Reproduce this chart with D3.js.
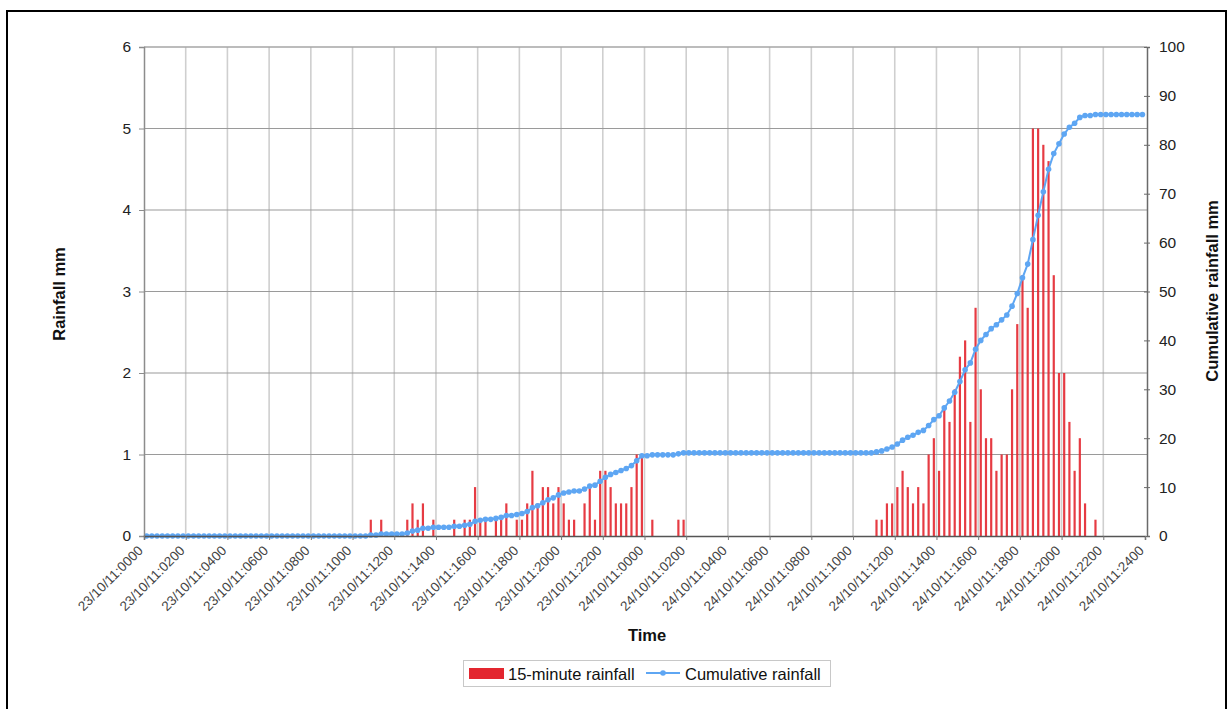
<!DOCTYPE html>
<html>
<head>
<meta charset="utf-8">
<script src="https://cdn.jsdelivr.net/npm/d3@7"></script>
<style>
  html, body { margin: 0; padding: 0; background: #fff; }
  svg { display: block; font-family: "Liberation Sans", Arial, sans-serif; }
</style>
</head>
<body>
<svg id="chart" width="1230" height="709"></svg>
<script>
// 15-minute rainfall (mm), one value per 15-minute interval, 23/10/11 00:00 -> 24/10/11 24:00 (8 per row = 2 hours)
const rainfall = [
  0,0,0,0,0,0,0,0,
  0,0,0,0,0,0,0,0,
  0,0,0,0,0,0,0,0,
  0,0,0,0,0,0,0,0,
  0,0,0,0,0,0,0,0,
  0,0,0,0.2,0,0.2,0,0,
  0,0,0.2,0.4,0.2,0.4,0,0.2,
  0,0,0,0.2,0,0.2,0.2,0.6,
  0.2,0.2,0,0.2,0.2,0.4,0,0.2,
  0.2,0.4,0.8,0.4,0.6,0.6,0.4,0.6,
  0.4,0.2,0.2,0,0.4,0.6,0.2,0.8,
  0.8,0.6,0.4,0.4,0.4,0.6,1.0,1.0,
  0,0.2,0,0,0,0,0.2,0.2,
  0,0,0,0,0,0,0,0,
  0,0,0,0,0,0,0,0,
  0,0,0,0,0,0,0,0,
  0,0,0,0,0,0,0,0,
  0,0,0,0,0.2,0.2,0.4,0.4,
  0.6,0.8,0.6,0.4,0.6,0.4,1.0,1.2,
  0.8,1.6,1.4,1.8,2.2,2.4,1.4,2.8,
  1.8,1.2,1.2,0.8,1.0,1.0,1.8,2.6,
  3.2,2.8,5.0,5.0,4.8,4.6,3.2,2.0,
  2.0,1.4,0.8,1.2,0.4,0,0.2,0,
  0,0,0,0,0,0,0,0
];

// Cumulative rainfall (mm)
const cumulative = [
  0,0,0,0,0,0,0,0,
  0,0,0,0,0,0,0,0,
  0,0,0,0,0,0,0,0,
  0,0,0,0,0,0,0,0,
  0,0,0,0,0,0,0,0,
  0,0,0,0.2,0.2,0.4,0.4,0.4,
  0.4,0.4,0.6,1.0,1.2,1.6,1.6,1.8,
  1.8,1.8,1.8,2.0,2.0,2.2,2.4,3.0,
  3.2,3.4,3.4,3.6,3.8,4.2,4.2,4.4,
  4.6,5.0,5.8,6.2,6.8,7.4,7.8,8.4,
  8.8,9.0,9.2,9.2,9.6,10.2,10.4,11.2,
  12.0,12.6,13.0,13.4,13.8,14.4,15.4,16.4,
  16.4,16.6,16.6,16.6,16.6,16.6,16.8,17.0,
  17.0,17.0,17.0,17.0,17.0,17.0,17.0,17.0,
  17.0,17.0,17.0,17.0,17.0,17.0,17.0,17.0,
  17.0,17.0,17.0,17.0,17.0,17.0,17.0,17.0,
  17.0,17.0,17.0,17.0,17.0,17.0,17.0,17.0,
  17.0,17.0,17.0,17.0,17.2,17.4,17.8,18.2,
  18.8,19.6,20.2,20.6,21.2,21.6,22.6,23.8,
  24.6,26.2,27.6,29.4,31.6,34.0,35.4,38.2,
  40.0,41.2,42.4,43.2,44.2,45.2,47.0,49.6,
  52.8,55.6,60.6,65.6,70.4,75.0,78.2,80.2,
  82.2,83.6,84.4,85.6,86.0,86.0,86.2,86.2,
  86.2,86.2,86.2,86.2,86.2,86.2,86.2,86.2
];

const timeTickLabels = [
  "23/10/11:0000","23/10/11:0200","23/10/11:0400","23/10/11:0600","23/10/11:0800",
  "23/10/11:1000","23/10/11:1200","23/10/11:1400","23/10/11:1600","23/10/11:1800",
  "23/10/11:2000","23/10/11:2200","24/10/11:0000","24/10/11:0200","24/10/11:0400",
  "24/10/11:0600","24/10/11:0800","24/10/11:1000","24/10/11:1200","24/10/11:1400",
  "24/10/11:1600","24/10/11:1800","24/10/11:2000","24/10/11:2200","24/10/11:2400"
];
const leftTicks = [0,1,2,3,4,5,6];
const rightTicks = [0,10,20,30,40,50,60,70,80,90,100];
const seriesNames = ["15-minute rainfall", "Cumulative rainfall"];

const plot = { left: 144, right: 1145, top: 47, bottom: 536 };
const RED = "#e3262f", BLUE = "#5ea6f3";
const FONT = "Liberation Sans, Arial, sans-serif";

const svg = d3.select("#chart");

// frame
svg.append("rect").attr("x", 7).attr("y", 11).attr("width", 1219).attr("height", 720)
  .attr("fill", "none").attr("stroke", "#000").attr("stroke-width", 2);

const n = rainfall.length;
const x = d3.scaleBand().domain(d3.range(n)).range([plot.left, plot.right])
  .paddingInner(0.58).paddingOuter(0.29).align(0.5);
const xt = d3.scaleLinear().domain([0, n]).range([plot.left, plot.right]);
const yL = d3.scaleLinear().domain([0, 6]).range([plot.bottom, plot.top]);
const yR = d3.scaleLinear().domain([0, 100]).range([plot.bottom, plot.top]);

const tickIdx = d3.range(0, n + 1, 8);

// vertical grid
svg.append("g").selectAll("line").data(tickIdx.slice(1, -1)).join("line")
  .attr("x1", d => xt(d)).attr("x2", d => xt(d))
  .attr("y1", plot.top).attr("y2", plot.bottom)
  .attr("stroke", "#cfcfcf").attr("stroke-width", 1.6);
// top border
svg.append("line").attr("x1", plot.left).attr("x2", plot.right + 2)
  .attr("y1", plot.top).attr("y2", plot.top).attr("stroke", "#bdbdbd").attr("stroke-width", 1.2);
// horizontal grid
svg.append("g").selectAll("line").data(leftTicks.slice(1)).join("line")
  .attr("x1", plot.left).attr("x2", plot.right + 2)
  .attr("y1", d => yL(d)).attr("y2", d => yL(d))
  .attr("stroke", "#9a9a9a").attr("stroke-width", 1.2);

// bars
svg.append("g").selectAll("rect").data(rainfall.map((v, i) => ({ i, v })).filter(d => d.v > 0)).join("rect")
  .attr("x", d => x(d.i)).attr("width", x.bandwidth())
  .attr("y", d => yL(d.v)).attr("height", d => yL(0) - yL(d.v))
  .attr("fill", RED).attr("fill-opacity", 0.9);

// cumulative line
const cx = i => x(i) + x.bandwidth() / 2;
svg.append("path").datum(cumulative)
  .attr("d", d3.line().x((d, i) => cx(i)).y(d => yR(d)))
  .attr("fill", "none").attr("stroke", BLUE).attr("stroke-width", 2);
svg.append("g").selectAll("circle").data(cumulative).join("circle")
  .attr("cx", (d, i) => cx(i)).attr("cy", d => yR(d)).attr("r", 2.8).attr("fill", BLUE);

// left axis
const gl = svg.append("g").attr("transform", `translate(${plot.left},0)`)
  .call(d3.axisLeft(yL).tickValues(leftTicks).tickSize(5).tickPadding(8).tickFormat(d3.format("d")));
gl.select(".domain").attr("stroke", "#8c8c8c").attr("stroke-width", 1.5);
gl.selectAll(".tick line").attr("stroke", "#8c8c8c");
gl.selectAll("text").attr("font-size", 15.5).attr("fill", "#222").attr("font-family", FONT);

// right axis
const gr = svg.append("g").attr("transform", `translate(${plot.right + 2},0)`)
  .call(d3.axisRight(yR).tickValues(rightTicks).tickSize(3).tickPadding(9).tickFormat(d3.format("d")));
gr.select(".domain").attr("stroke", "#6a6a6a").attr("stroke-width", 1.5);
gr.selectAll(".tick line").attr("stroke", "#6a6a6a").attr("x1", -3);
gr.selectAll("text").attr("font-size", 15.5).attr("fill", "#222").attr("font-family", FONT);

// bottom axis
const gb = svg.append("g").attr("transform", `translate(0,${plot.bottom})`)
  .call(d3.axisBottom(xt).tickValues(tickIdx).tickSize(4).tickFormat((d, i) => timeTickLabels[i]));
gb.select(".domain").attr("stroke", "#555").attr("stroke-width", 1.5);
gb.selectAll(".tick line").attr("stroke", "#777");
gb.selectAll("text")
  .attr("font-size", 13.5).attr("fill", "#444").attr("font-family", FONT)
  .attr("text-anchor", "end").attr("x", 0).attr("y", 0).attr("dy", "0.35em")
  .attr("transform", "translate(-4,12) rotate(-45)");

// axis titles
svg.append("text").attr("transform", "translate(65,294) rotate(-90)")
  .attr("text-anchor", "middle").attr("font-size", 16.5).attr("font-weight", "bold").attr("fill", "#111")
  .attr("font-family", FONT).text("Rainfall mm");
svg.append("text").attr("transform", "translate(1218,291) rotate(-90)")
  .attr("text-anchor", "middle").attr("font-size", 16.5).attr("font-weight", "bold").attr("fill", "#111")
  .attr("font-family", FONT).text("Cumulative rainfall mm");
svg.append("text").attr("x", 647).attr("y", 641)
  .attr("text-anchor", "middle").attr("font-size", 16.5).attr("font-weight", "bold").attr("fill", "#111")
  .attr("font-family", FONT).text("Time");

// legend
const lg = svg.append("g");
lg.append("rect").attr("x", 463.5).attr("y", 660.5).attr("width", 367).attr("height", 26)
  .attr("fill", "#fff").attr("stroke", "#c8c8c8");
lg.append("rect").attr("x", 469).attr("y", 668).attr("width", 35).attr("height", 11).attr("fill", RED);
lg.append("text").attr("x", 508).attr("y", 679.5).attr("font-size", 16.5).attr("fill", "#111")
  .attr("font-family", FONT).text(seriesNames[0]);
lg.append("line").attr("x1", 646).attr("x2", 680).attr("y1", 673).attr("y2", 673)
  .attr("stroke", BLUE).attr("stroke-width", 2);
lg.append("circle").attr("cx", 663).attr("cy", 673).attr("r", 2.8).attr("fill", BLUE);
lg.append("text").attr("x", 685).attr("y", 679.5).attr("font-size", 16.5).attr("fill", "#111")
  .attr("font-family", FONT).text(seriesNames[1]);
</script>
</body>
</html>
